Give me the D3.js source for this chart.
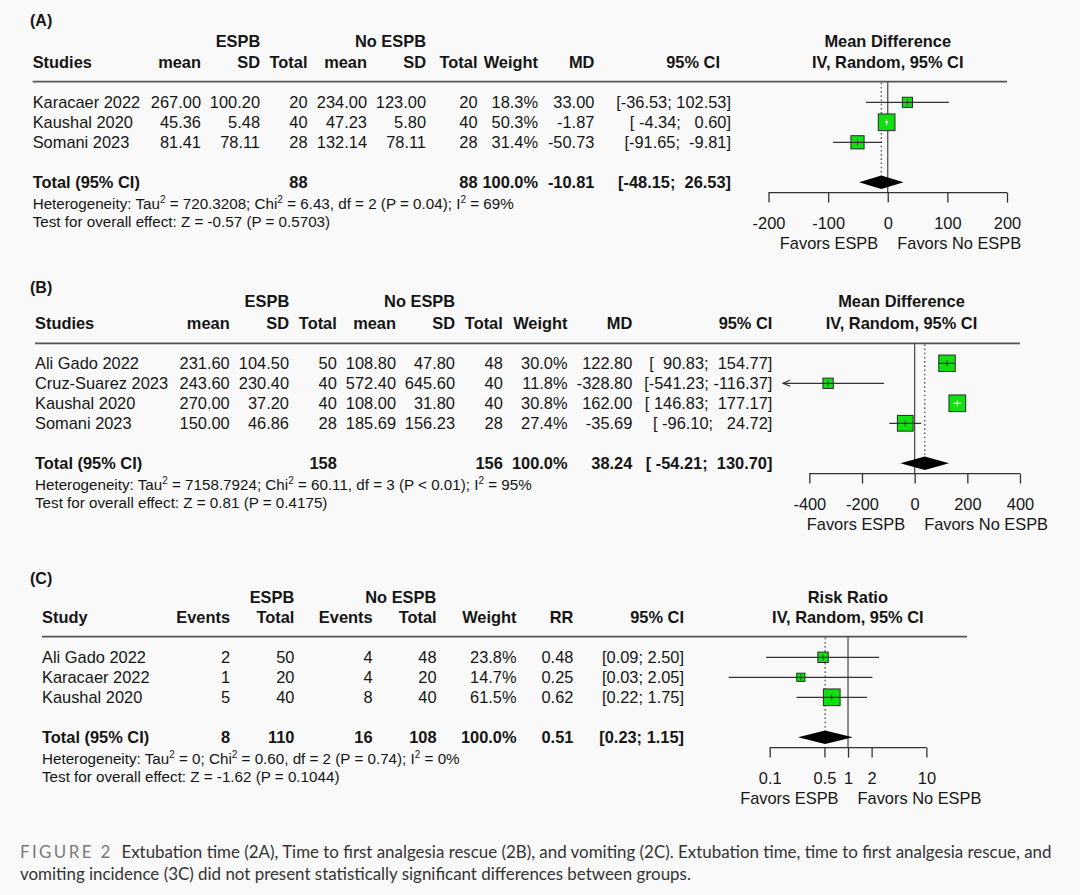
<!DOCTYPE html>
<html><head><meta charset="utf-8">
<script src="https://cdn.jsdelivr.net/npm/d3@7"></script>
<style>html,body{margin:0;padding:0;background:#f9f9f9;} svg{display:block;}</style>
</head><body>
<svg id="chart" width="1080" height="895"></svg>
<script>
// ---------------- DATA ----------------
// Panel A: Extubation time
const studiesA   = ["Karacaer 2022", "Kaushal 2020", "Somani 2023"];
const espbMeanA  = [267.00, 45.36, 81.41];
const espbSdA    = [100.20, 5.48, 78.11];
const espbNA     = [20, 40, 28];
const noMeanA    = [234.00, 47.23, 132.14];
const noSdA      = [123.00, 5.80, 78.11];
const noNA       = [20, 40, 28];
const weightA    = [18.3, 50.3, 31.4];
const mdA        = [33.00, -1.87, -50.73];
const lowerA     = [-36.53, -4.34, -91.65];
const upperA     = [102.53, 0.60, -9.81];
const pooledA    = [-10.81, -48.15, 26.53];   // estimate, lower, upper
const ticksA     = [-200, -100, 0, 100, 200];

// Panel B: Time to first analgesia rescue
const studiesB   = ["Ali Gado 2022", "Cruz-Suarez 2023", "Kaushal 2020", "Somani 2023"];
const espbMeanB  = [231.60, 243.60, 270.00, 150.00];
const espbSdB    = [104.50, 230.40, 37.20, 46.86];
const espbNB     = [50, 40, 40, 28];
const noMeanB    = [108.80, 572.40, 108.00, 185.69];
const noSdB      = [47.80, 645.60, 31.80, 156.23];
const noNB       = [48, 40, 40, 28];
const weightB    = [30.0, 11.8, 30.8, 27.4];
const mdB        = [122.80, -328.80, 162.00, -35.69];
const lowerB     = [90.83, -541.23, 146.83, -96.10];
const upperB     = [154.77, -116.37, 177.17, 24.72];
const pooledB    = [38.24, -54.21, 130.70];
const ticksB     = [-400, -200, 0, 200, 400];

// Panel C: Vomiting
const studiesC   = ["Ali Gado 2022", "Karacaer 2022", "Kaushal 2020"];
const espbEvC    = [2, 1, 5];
const espbNC     = [50, 20, 40];
const noEvC      = [4, 4, 8];
const noNC       = [48, 20, 40];
const weightC    = [23.8, 14.7, 61.5];
const rrC        = [0.48, 0.25, 0.62];
const lowerC     = [0.09, 0.03, 0.22];
const upperC     = [2.50, 2.05, 1.75];
const pooledC    = [0.51, 0.23, 1.15];
const ticksC     = [0.1, 0.5, 1, 2, 10];

// Heterogeneity / overall effect (A, B, C)
const hetTau2    = ["720.3208", "7158.7924", "0"];
const hetChi2    = ["6.43", "60.11", "0.60"];
const hetDf      = [2, 3, 2];
const hetP       = ["= 0.04", "< 0.01", "= 0.74"];
const hetI2      = ["69%", "95%", "0%"];
const overallZ   = ["-0.57", "0.81", "-1.62"];
const overallP   = ["0.5703", "0.4175", "0.1044"];

const captionLead  = "FIGURE 2";
const captionLine1 = "Extubation time (2A), Time to first analgesia rescue (2B), and vomiting (2C). Extubation time, time to first analgesia rescue, and";
const captionLine2 = "vomiting incidence (3C) did not present statistically significant differences between groups.";

// ---------------- HELPERS ----------------
const FONT = "'Liberation Sans', Arial, Helvetica, sans-serif";
const FS = 16.4, FSH = 15.2, TXT = "#151515";
const svg = d3.select("#chart");
svg.append("rect").attr("width", 1080).attr("height", 895).attr("fill", "#f9f9f9");
svg.attr("font-family", FONT);

const f2 = v => v.toFixed(2);
const pct = v => v.toFixed(1) + "%";
function fmtCI(lows, highs) {
  const lo = lows.map(f2), hi = highs.map(f2);
  const wl = d3.max(lo, s => s.length), wh = d3.max(hi, s => s.length);
  return lo.map((l, i) => "[" + l.padStart(wl) + "; " + hi[i].padStart(wh) + "]");
}
function txt(g, str, x, y, o = {}) {
  const fs = o.fs || FS;
  return g.append("text")
    .attr("x", x).attr("y", y + 0.36 * fs)
    .attr("font-size", fs)
    .attr("font-weight", o.bold ? "bold" : "normal")
    .attr("text-anchor", o.anchor || "start")
    .attr("fill", o.fill || TXT)
    .attr("xml:space", "preserve").style("white-space", "pre")
    .text(str);
}

function drawPanel(p) {
  const g = svg.append("g");
  const x = p.scale;
  const n = p.studies.length;
  const rowY = i => p.row0 + i * 20;
  const totalY = p.row0 + (n + 1) * 20;
  const axisY = totalY + 10.3;

  // ---- table ----
  txt(g, p.label, 30, p.labelY, {bold: true, fs: 16});
  p.groups.forEach(gr => txt(g, gr.t, gr.x, p.groupY, {bold: true, anchor: "middle"}));
  txt(g, p.firstHead, p.left, p.headY, {bold: true});
  p.cols.forEach(c => txt(g, c.h, c.hx || c.x, p.headY, {bold: true, anchor: "end"}));
  p.studies.forEach((s, i) => {
    txt(g, s, p.left, rowY(i));
    p.cols.forEach(c => txt(g, c.v[i], c.x, rowY(i), {anchor: "end"}));
  });
  txt(g, "Total (95% CI)", p.left, totalY, {bold: true});
  p.cols.forEach(c => { if (c.tot !== undefined) txt(g, c.tot, c.x, totalY, {bold: true, anchor: "end"}); });

  // heterogeneity + overall test
  const k = p.het;
  const ht = g.append("text").attr("x", p.left).attr("y", totalY + 21 + 0.36 * FSH)
    .attr("font-size", FSH).attr("fill", TXT);
  const sup = () => ht.append("tspan").attr("dy", -6).attr("font-size", 10).text("2");
  const back = s => ht.append("tspan").attr("dy", 6).text(s);
  ht.append("tspan").text("Heterogeneity: Tau"); sup();
  back(" = " + hetTau2[k] + "; Chi"); sup();
  back(" = " + hetChi2[k] + ", df = " + hetDf[k] + " (P " + hetP[k] + "); I"); sup();
  back(" = " + hetI2[k]);
  txt(g, "Test for overall effect: Z = " + overallZ[k] + " (P = " + overallP[k] + ")",
      p.left, totalY + 39, {fs: FSH});

  // ---- plot ----
  const [xr0, xr1] = x.range();
  const topY = p.lineY;
  g.append("line").attr("x1", p.left).attr("x2", xr1).attr("y1", topY).attr("y2", topY)
    .attr("stroke", "#555").attr("stroke-width", 1.8);
  p.groups.length && txt(g, p.title1, (xr0 + xr1) / 2, p.groupY, {bold: true, anchor: "middle"});
  txt(g, p.title2, (xr0 + xr1) / 2, p.headY, {bold: true, anchor: "middle"});

  // reference (no effect) line
  g.append("line").attr("x1", x(p.ref)).attr("x2", x(p.ref)).attr("y1", topY).attr("y2", axisY)
    .attr("stroke", "#444").attr("stroke-width", 1.2);
  // pooled estimate dotted line
  g.append("line").attr("x1", x(p.pooled[0])).attr("x2", x(p.pooled[0]))
    .attr("y1", topY + 1).attr("y2", totalY - 6.7)
    .attr("stroke", "#555").attr("stroke-width", 1.3).attr("stroke-dasharray", "1.6,2.6");

  const maxW = d3.max(p.w);
  const [dLo, dHi] = x.domain();
  p.est.forEach((e, i) => {
    const y = rowY(i), cx = x(e);
    const size = 16.7 * Math.sqrt(p.w[i] / maxW), h = size / 2;
    const lo = Math.max(p.lo[i], dLo), hi = Math.min(p.hi[i], dHi);
    const x1 = x(lo), x2 = x(hi);
    const inside = x1 >= cx - h && x2 <= cx + h;
    g.append("rect").attr("x", cx - h).attr("y", y - h).attr("width", size).attr("height", size)
      .attr("fill", "#10e010").attr("stroke", "#2a2a2a").attr("stroke-width", 1);
    const col = inside ? "#ffffff" : "#333";
    g.append("line").attr("x1", x1).attr("x2", x2).attr("y1", y).attr("y2", y)
      .attr("stroke", col).attr("stroke-width", 1.2);
    g.append("line").attr("x1", cx).attr("x2", cx).attr("y1", y - 3).attr("y2", y + 3)
      .attr("stroke", col).attr("stroke-width", 1);
    if (p.lo[i] < dLo) {
      g.append("path").attr("d", `M${x1 + 7},${y - 3}L${x1},${y}L${x1 + 7},${y + 3}`)
        .attr("fill", "none").attr("stroke", "#333").attr("stroke-width", 1.2);
    }
  });

  // pooled diamond
  const [pe, pl, pu] = p.pooled;
  g.append("path")
    .attr("d", `M${x(pl)},${totalY}L${x(pe)},${totalY - 6.7}L${x(pu)},${totalY}L${x(pe)},${totalY + 6.7}Z`)
    .attr("fill", "#000");

  // axis
  const ax = g.append("g").attr("transform", `translate(0,${axisY})`)
    .call(d3.axisBottom(x).tickValues(p.ticks).tickSize(10).tickSizeOuter(0)
      .tickPadding(14.6).tickFormat(d => String(d)));
  ax.select(".domain").remove();
  ax.selectAll(".tick line").attr("stroke", "#333").attr("stroke-width", 1.3);
  ax.selectAll(".tick text").attr("font-size", FS).attr("font-family", FONT).attr("fill", TXT);
  ax.append("line").attr("x1", x(p.ticks[0])).attr("x2", x(p.ticks[p.ticks.length - 1]))
    .attr("stroke", "#333").attr("stroke-width", 1.3);

  txt(g, "Favors ESPB", x(p.ref) - 9.5, axisY + 50.5, {anchor: "end"});
  txt(g, "Favors No ESPB", x(p.ref) + 9.5, axisY + 50.5, {anchor: "start"});
}

// ---------------- PANELS ----------------
const ciA = fmtCI([...lowerA, pooledA[1]], [...upperA, pooledA[2]]);
drawPanel({
  label: "(A)", labelY: 20.4, left: 32.7, groupY: 41, headY: 62, lineY: 81.7, row0: 102.3,
  firstHead: "Studies",
  groups: [{t: "ESPB", x: 238}, {t: "No ESPB", x: 390.5}],
  cols: [
    {h: "mean", x: 201, v: espbMeanA.map(f2)},
    {h: "SD", x: 260, v: espbSdA.map(f2)},
    {h: "Total", x: 307.5, v: espbNA.map(String), tot: String(d3.sum(espbNA))},
    {h: "mean", x: 367, v: noMeanA.map(f2)},
    {h: "SD", x: 426, v: noSdA.map(f2)},
    {h: "Total", x: 477.5, v: noNA.map(String), tot: String(d3.sum(noNA))},
    {h: "Weight", x: 538, v: weightA.map(pct), tot: pct(d3.sum(weightA))},
    {h: "MD", x: 594.4, v: mdA.map(f2), tot: f2(pooledA[0])},
    {h: "95% CI", x: 731, hx: 720, v: ciA.slice(0, -1), tot: ciA[ciA.length - 1]}
  ],
  studies: studiesA, est: mdA, lo: lowerA, hi: upperA, w: weightA, pooled: pooledA,
  scale: d3.scaleLinear().domain([-200, 200]).range([768.5, 1007]),
  ticks: ticksA, ref: 0, title1: "Mean Difference", title2: "IV, Random, 95% CI", het: 0
});

const ciB = fmtCI([...lowerB, pooledB[1]], [...upperB, pooledB[2]]);
drawPanel({
  label: "(B)", labelY: 287.7, left: 35, groupY: 301.4, headY: 323, lineY: 343.3, row0: 363.3,
  firstHead: "Studies",
  groups: [{t: "ESPB", x: 266.9}, {t: "No ESPB", x: 419.6}],
  cols: [
    {h: "mean", x: 229.7, v: espbMeanB.map(f2)},
    {h: "SD", x: 289, v: espbSdB.map(f2)},
    {h: "Total", x: 336.8, v: espbNB.map(String), tot: String(d3.sum(espbNB))},
    {h: "mean", x: 396, v: noMeanB.map(f2)},
    {h: "SD", x: 455, v: noSdB.map(f2)},
    {h: "Total", x: 502.8, v: noNB.map(String), tot: String(d3.sum(noNB))},
    {h: "Weight", x: 567.5, v: weightB.map(pct), tot: pct(d3.sum(weightB))},
    {h: "MD", x: 632.3, v: mdB.map(f2), tot: f2(pooledB[0])},
    {h: "95% CI", x: 772.4, v: ciB.slice(0, -1), tot: ciB[ciB.length - 1]}
  ],
  studies: studiesB, est: mdB, lo: lowerB, hi: upperB, w: weightB, pooled: pooledB,
  scale: d3.scaleLinear().domain([-500, 400]).range([783, 1020]),
  ticks: ticksB, ref: 0, title1: "Mean Difference", title2: "IV, Random, 95% CI", het: 1
});

const ciC = fmtCI([...lowerC, pooledC[1]], [...upperC, pooledC[2]]);
drawPanel({
  label: "(C)", labelY: 578.3, left: 42, groupY: 596.6, headY: 617, lineY: 636.7, row0: 657.3,
  firstHead: "Study",
  groups: [{t: "ESPB", x: 272}, {t: "No ESPB", x: 400.8}],
  cols: [
    {h: "Events", x: 230, v: espbEvC.map(String), tot: String(d3.sum(espbEvC))},
    {h: "Total", x: 294.4, v: espbNC.map(String), tot: String(d3.sum(espbNC))},
    {h: "Events", x: 372.6, v: noEvC.map(String), tot: String(d3.sum(noEvC))},
    {h: "Total", x: 436.6, v: noNC.map(String), tot: String(d3.sum(noNC))},
    {h: "Weight", x: 516.5, v: weightC.map(pct), tot: pct(d3.sum(weightC))},
    {h: "RR", x: 573.4, v: rrC.map(f2), tot: f2(pooledC[0])},
    {h: "95% CI", x: 684, v: ciC.slice(0, -1), tot: ciC[ciC.length - 1]}
  ],
  studies: studiesC, est: rrC, lo: lowerC, hi: upperC, w: weightC, pooled: pooledC,
  scale: d3.scaleLog().domain([0.03, 33]).range([728.7, 967]),
  ticks: ticksC, ref: 1, title1: "Risk Ratio", title2: "IV, Random, 95% CI", het: 2
});

// ---------------- CAPTION ----------------
const cap = svg.append("g").attr("font-family", "Lato, 'Open Sans', sans-serif").attr("fill", "#333");
const c1 = cap.append("text").attr("x", 20).attr("y", 858).attr("font-size", 15.5).attr("xml:space", "preserve");
c1.append("tspan").attr("fill", "#7a7a7a").attr("letter-spacing", 2.4).text(captionLead);
c1.append("tspan").text("  " + captionLine1);
const c2 = cap.append("text").attr("x", 20).attr("y", 880).attr("font-size", 15.5).text(captionLine2);
// fit caption width to the page column
const target = 1034, w1 = c1.node().getComputedTextLength();
const fsCap = 15.5 * target / w1;
c1.attr("font-size", fsCap); c2.attr("font-size", fsCap);
</script>
</body></html>
